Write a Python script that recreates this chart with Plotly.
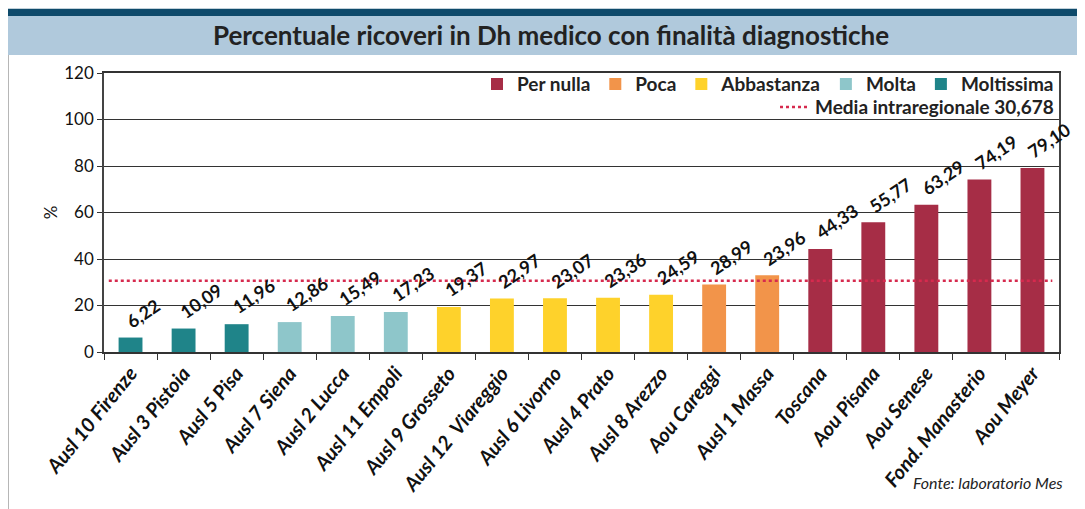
import plotly.graph_objects as go

# ---------------- data ----------------
categories = ["Ausl 10 Firenze", "Ausl 3 Pistoia", "Ausl 5 Pisa", "Ausl 7 Siena",
              "Ausl 2 Lucca", "Ausl 11 Empoli", "Ausl 9 Grosseto", "Ausl 12  Viareggio",
              "Ausl 6 Livorno", "Ausl 4 Prato", "Ausl 8 Arezzo", "Aou Careggi",
              "Ausl 1 Massa", "Toscana", "Aou Pisana", "Aou Senese",
              "Fond. Manasterio", "Aou Meyer"]
values = [6.22, 10.09, 11.96, 12.86, 15.49, 17.23, 19.37, 22.97, 23.07, 23.36,
          24.59, 28.99, 32.96, 44.33, 55.77, 63.29, 74.19, 79.10]
value_labels = ["6,22", "10,09", "11,96", "12,86", "15,49", "17,23", "19,37", "22,97",
                "23,07", "23,36", "24,59", "28,99", "23,96", "44,33", "55,77", "63,29",
                "74,19", "79,10"]
classes = ["Moltissima"] * 3 + ["Molta"] * 3 + ["Abbastanza"] * 5 + ["Poca"] * 2 + ["Per nulla"] * 5
legend_order = ["Per nulla", "Poca", "Abbastanza", "Molta", "Moltissima"]
class_colors = {"Per nulla": "#A62D46", "Poca": "#F2944A", "Abbastanza": "#FED22B",
                "Molta": "#8EC6CA", "Moltissima": "#1F8489"}
media = 30.678
media_label = "Media intraregionale 30,678"
y_ticks = [0, 20, 40, 60, 80, 100, 120]

FONT = "Lato"

fig = go.Figure()
for cls in legend_order:
    xs = [c for c, k in zip(categories, classes) if k == cls]
    ys = [v for v, k in zip(values, classes) if k == cls]
    fig.add_trace(go.Bar(x=xs, y=ys, name=cls, marker=dict(color=class_colors[cls], line_width=0),
                         legend="legend", hoverinfo="x+y"))

# mean line
fig.add_shape(type="line", xref="paper", yref="y", x0=0.005, x1=0.993, y0=media, y1=media,
              line=dict(color="#D62A4E", width=2.5, dash="dot"),
              showlegend=True, name=media_label, legend="legend2")

# value labels
for c, v, t in zip(categories, values, value_labels):
    fig.add_annotation(x=c, y=v, text=t, showarrow=False, textangle=-34,
                       xanchor="left", yanchor="bottom", xshift=-11, yshift=3,
                       font=dict(family=FONT, size=18, color="#111", weight="bold"))

# header bands and frame
fig.add_shape(type="rect", xref="paper", yref="paper", x0=-0.1007, x1=1.04, y0=1.2043, y1=1.23,
              fillcolor="#0E4A6B", line_width=0, layer="below")
fig.add_shape(type="rect", xref="paper", yref="paper", x0=-0.1007, x1=1.04, y0=1.0645, y1=1.2043,
              fillcolor="#B0C9DC", line_width=0, layer="below")
fig.add_shape(type="line", xref="paper", yref="paper", x0=-0.1007, x1=-0.1007, y0=1.0645, y1=-0.6,
              line=dict(color="#222", width=1))

fig.add_annotation(xref="paper", yref="paper", x=1.006, y=-0.466, text="Fonte: laboratorio Mes",
                   showarrow=False, xanchor="right", yanchor="middle",
                   font=dict(family=FONT, size=16, color="#222", style="italic"))

# the page body adds an 8px offset; margins compensate so the plot area lands at 104..1059 x 73..352
fig.update_layout(
    width=1085, height=509,
    margin=dict(l=96, r=34, t=65, b=165, autoexpand=False),
    paper_bgcolor="white", plot_bgcolor="white",
    barmode="relative", bargap=0.55,
    title=dict(text="Percentuale ricoveri in Dh medico con finalità diagnostiche",
               x=0.5005, xref="container", xanchor="center", y=1 - 28 / 509, yref="container",
               yanchor="middle", font=dict(family=FONT, size=26, color="#222", weight="bold")),
    font=dict(family=FONT, color="#111"),
    legend=dict(orientation="h", x=1.0, xanchor="right", y=0.96, yanchor="middle",
                bgcolor="rgba(0,0,0,0)", traceorder="normal",
                font=dict(family=FONT, size=19, color="#222", weight="bold"),
                itemwidth=30, tracegroupgap=0),
    legend2=dict(orientation="h", x=1.0, xanchor="right", y=0.878, yanchor="middle",
                 bgcolor="rgba(0,0,0,0)",
                 font=dict(family=FONT, size=19, color="#222", weight="bold"), itemwidth=30),
    showlegend=True,
    xaxis=dict(type="category", categoryorder="array", categoryarray=categories,
               range=[-0.5, len(categories) - 0.5], autorange=False,
               tickangle=-51, tickfont=dict(family=FONT, size=20, color="#111", weight="bold", style="italic"),
               ticks="outside", tickson="boundaries", ticklen=6, tickcolor="#333",
               showline=True, linecolor="#333", linewidth=1.5, mirror=True, showgrid=False),
    yaxis=dict(range=[0, 120], tickvals=y_ticks, ticks="outside", ticklen=5, tickcolor="#333",
               tickfont=dict(family=FONT, size=17, color="#111"),
               showgrid=True, gridcolor="#333", gridwidth=1,
               showline=True, linecolor="#444", linewidth=1.5, mirror=True, zeroline=False,
               title=dict(text="%", font=dict(family=FONT, size=17, color="#111"), standoff=2)),
)

fig.write_html("out.html")
